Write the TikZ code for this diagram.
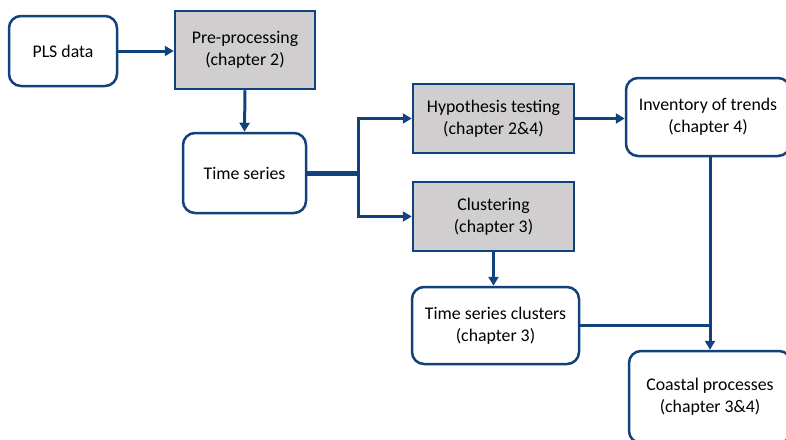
\documentclass[tikz,border=0pt]{standalone}
\usepackage{fontspec}
\setmainfont{Carlito}
\usetikzlibrary{arrows.meta}
\definecolor{navy}{RGB}{18,66,125}
\definecolor{boxgray}{RGB}{208,206,206}
\tikzset{
  base/.style={draw=navy, line width=2.5pt, inner sep=0pt, align=center,
    font=\fontsize{17.8}{22}\selectfont, text=black},
  roundbox/.style={base, fill=white, rounded corners=12pt},
  graybox/.style={base, fill=boxgray},
  conn/.style={draw=navy, line width=3pt, -{Triangle[length=9pt,width=10pt]}},
  plain/.style={draw=navy, line width=3pt},
}
\begin{document}
\begin{tikzpicture}[x=1pt,y=-1pt]
\useasboundingbox (0,0) rectangle (786,439);
\clip (0,0) rectangle (786,439);
\node[roundbox, minimum width=108pt, minimum height=70pt] (pls) at (63,51) {PLS data};
\node[graybox, minimum width=140pt, minimum height=78pt] (pre) at (245,50) {Pre-processing\\(chapter 2)};
\node[roundbox, minimum width=123pt, minimum height=80pt] (ts) at (244.5,173) {Time series};
\node[graybox, minimum width=161pt, minimum height=69pt] (hyp) at (493.5,118.5) {Hypothesis testing\\(chapter 2\&4)};
\node[graybox, minimum width=161pt, minimum height=69pt] (clu) at (493.5,216.5) {Clustering\\(chapter 3)};
\node[roundbox, minimum width=164pt, minimum height=78pt] (inv) at (708,117) {Inventory of trends\\(chapter 4)};
\node[roundbox, minimum width=167pt, minimum height=77pt] (tsc) at (495.5,325.5) {Time series clusters\\(chapter 3)};
\node[roundbox, minimum width=162pt, minimum height=92pt] (coast) at (710,397) {Coastal processes\\(chapter 3\&4)};
\coordinate (j) at (358,173);
\draw[conn] (pls.east) -- (pre.west |- pls.east);
\draw[conn] (pre.south) -- (ts.north);
\draw[plain, line width=5pt] (ts.east) -- (j);
\draw[conn] (j) |- (hyp.west);
\draw[conn] (j) |- (clu.west);
\draw[conn] (hyp.east) -- (inv.west |- hyp.east);
\draw[conn] (clu.south) -- (tsc.north -| clu.south);
\draw[conn] (coast.north |- inv.south) -- (coast.north);
\draw[plain] (tsc.east) -- (coast.north |- tsc.east);
\end{tikzpicture}
\end{document}
